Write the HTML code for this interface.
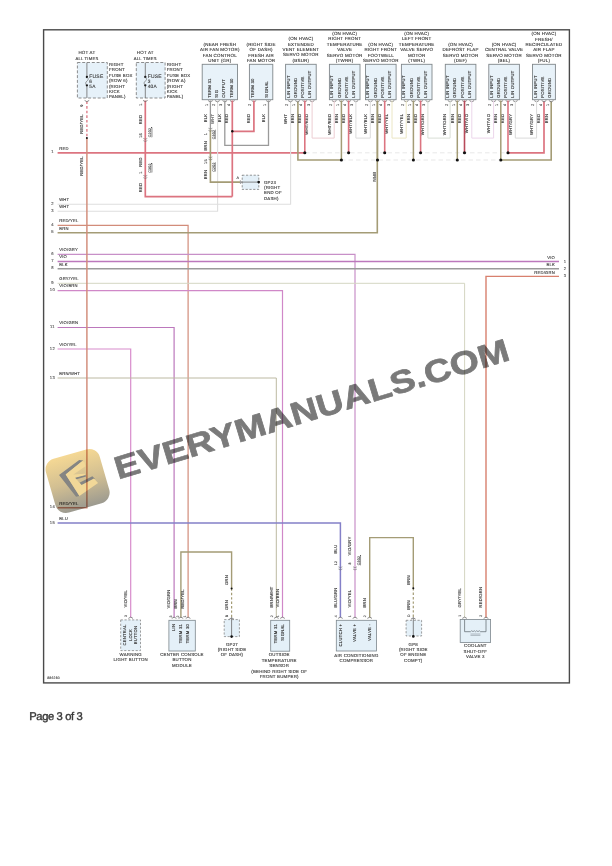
<!DOCTYPE html>
<html><head><meta charset="utf-8"><style>
html,body{margin:0;padding:0;background:#fff;}
body{width:612px;height:866px;position:relative;overflow:hidden;}
svg{position:absolute;left:0;top:0;}
svg text{font-family:"Liberation Sans",sans-serif;letter-spacing:0.22px;text-rendering:geometricPrecision;stroke:currentColor;stroke-width:0.12px;}
.pg{position:absolute;left:29.5px;top:709px;font-family:"Liberation Sans",sans-serif;font-size:11px;color:#333;letter-spacing:-0.2px;}
</style></head><body>
<svg width="612" height="866" viewBox="0 0 612 866">
<rect x="43.6" y="29.8" width="525.8" height="653.1" fill="none" stroke="#4a4a4a" stroke-width="1.4"/>
<text x="52.40" y="153.30" font-size="4.16" text-anchor="middle" fill="#555" style="color:#555" >1</text>
<text x="59.20" y="149.60" font-size="4.16" text-anchor="start" fill="#3c3c3c" style="color:#3c3c3c" >RED</text>
<text x="52.40" y="204.80" font-size="4.16" text-anchor="middle" fill="#555" style="color:#555" >2</text>
<text x="59.20" y="201.10" font-size="4.16" text-anchor="start" fill="#3c3c3c" style="color:#3c3c3c" >WHT</text>
<text x="52.40" y="211.70" font-size="4.16" text-anchor="middle" fill="#555" style="color:#555" >3</text>
<text x="59.20" y="208.00" font-size="4.16" text-anchor="start" fill="#3c3c3c" style="color:#3c3c3c" >WHT</text>
<text x="52.40" y="225.90" font-size="4.16" text-anchor="middle" fill="#555" style="color:#555" >4</text>
<text x="59.20" y="222.20" font-size="4.16" text-anchor="start" fill="#3c3c3c" style="color:#3c3c3c" >RED/YEL</text>
<text x="52.40" y="233.20" font-size="4.16" text-anchor="middle" fill="#555" style="color:#555" >5</text>
<text x="59.20" y="229.50" font-size="4.16" text-anchor="start" fill="#3c3c3c" style="color:#3c3c3c" >BRN</text>
<text x="52.40" y="254.80" font-size="4.16" text-anchor="middle" fill="#555" style="color:#555" >6</text>
<text x="59.20" y="251.10" font-size="4.16" text-anchor="start" fill="#3c3c3c" style="color:#3c3c3c" >VIO/GRY</text>
<text x="52.40" y="262.00" font-size="4.16" text-anchor="middle" fill="#555" style="color:#555" >7</text>
<text x="59.20" y="258.30" font-size="4.16" text-anchor="start" fill="#3c3c3c" style="color:#3c3c3c" >VIO</text>
<text x="52.40" y="269.30" font-size="4.16" text-anchor="middle" fill="#555" style="color:#555" >8</text>
<text x="59.20" y="265.60" font-size="4.16" text-anchor="start" fill="#3c3c3c" style="color:#3c3c3c" >BLK</text>
<text x="52.40" y="283.80" font-size="4.16" text-anchor="middle" fill="#555" style="color:#555" >9</text>
<text x="59.20" y="280.10" font-size="4.16" text-anchor="start" fill="#3c3c3c" style="color:#3c3c3c" >GRY/YEL</text>
<text x="52.40" y="291.10" font-size="4.16" text-anchor="middle" fill="#555" style="color:#555" >10</text>
<text x="59.20" y="287.40" font-size="4.16" text-anchor="start" fill="#3c3c3c" style="color:#3c3c3c" >VIO/BRN</text>
<text x="52.40" y="328.00" font-size="4.16" text-anchor="middle" fill="#555" style="color:#555" >11</text>
<text x="59.20" y="324.30" font-size="4.16" text-anchor="start" fill="#3c3c3c" style="color:#3c3c3c" >VIO/GRN</text>
<text x="52.40" y="349.50" font-size="4.16" text-anchor="middle" fill="#555" style="color:#555" >12</text>
<text x="59.20" y="345.80" font-size="4.16" text-anchor="start" fill="#3c3c3c" style="color:#3c3c3c" >VIO/YEL</text>
<text x="52.40" y="378.50" font-size="4.16" text-anchor="middle" fill="#555" style="color:#555" >13</text>
<text x="59.20" y="374.80" font-size="4.16" text-anchor="start" fill="#3c3c3c" style="color:#3c3c3c" >BRN/WHT</text>
<text x="52.40" y="508.20" font-size="4.16" text-anchor="middle" fill="#555" style="color:#555" >14</text>
<text x="59.20" y="504.50" font-size="4.16" text-anchor="start" fill="#3c3c3c" style="color:#3c3c3c" >RED/YEL</text>
<text x="52.40" y="523.50" font-size="4.16" text-anchor="middle" fill="#555" style="color:#555" >15</text>
<text x="59.20" y="519.80" font-size="4.16" text-anchor="start" fill="#3c3c3c" style="color:#3c3c3c" >BLU</text>
<line x1="57.60" y1="152.80" x2="305.00" y2="152.80" stroke="#dc7480" stroke-width="1.7" />
<line x1="305.00" y1="152.80" x2="507.70" y2="152.80" stroke="#d6d6d6" stroke-width="0.6" stroke-dasharray="4.5 3"/>
<polyline points="507.70,152.80 544.00,152.80 544.00,101.50" fill="none" stroke="#dc7480" stroke-width="1.7" />
<polyline points="297.90,101.50 297.90,160.00 341.00,160.00" fill="none" stroke="#a49c76" stroke-width="1.6" />
<line x1="341.00" y1="160.00" x2="500.50" y2="160.00" stroke="#d6d6d6" stroke-width="0.6" stroke-dasharray="4.5 3"/>
<polyline points="500.50,160.00 551.20,160.00 551.20,101.50" fill="none" stroke="#a49c76" stroke-width="1.6" />
<polyline points="57.60,204.30 290.60,204.30 290.60,101.50" fill="none" stroke="#dedede" stroke-width="1.1" />
<polyline points="57.60,211.20 217.60,211.20 217.60,101.50" fill="none" stroke="#dedede" stroke-width="1.1" />
<polyline points="57.60,225.40 188.10,225.40 188.10,617.50" fill="none" stroke="#d28c7a" stroke-width="1.2" />
<polyline points="57.60,232.70 377.30,232.70 377.30,101.50" fill="none" stroke="#a49c76" stroke-width="1.6" />
<polyline points="57.60,254.30 355.00,254.30 355.00,617.50" fill="none" stroke="#c890c8" stroke-width="1.2" />
<line x1="57.60" y1="261.50" x2="559.00" y2="261.50" stroke="#bc78bc" stroke-width="1.5" />
<line x1="57.60" y1="268.80" x2="559.00" y2="268.80" stroke="#9a9a9a" stroke-width="1.4" />
<polyline points="559.00,276.40 486.00,276.40 486.00,617.50" fill="none" stroke="#d8806e" stroke-width="1.4" />
<polyline points="57.60,283.30 464.60,283.30 464.60,617.50" fill="none" stroke="#d4d6c2" stroke-width="1.0" />
<polyline points="57.60,290.60 282.50,290.60 282.50,617.50" fill="none" stroke="#d088c8" stroke-width="1.2" />
<polyline points="57.60,327.50 174.10,327.50 174.10,617.50" fill="none" stroke="#bc78bc" stroke-width="1.2" />
<polyline points="57.60,349.00 130.70,349.00 130.70,617.50" fill="none" stroke="#d88ccc" stroke-width="1.2" />
<polyline points="57.60,378.00 276.30,378.00 276.30,617.50" fill="none" stroke="#bcb9a2" stroke-width="1.0" />
<polyline points="57.60,507.70 86.90,507.70 86.90,138.00" fill="none" stroke="#d28c7a" stroke-width="1.45" />
<line x1="86.90" y1="101.50" x2="86.90" y2="138.00" stroke="#dc7480" stroke-width="1.3" stroke-dasharray="2.6 2"/>
<circle cx="86.90" cy="138.00" r="1.0" fill="#111"/>
<polyline points="57.60,523.00 340.40,523.00 340.40,617.50" fill="none" stroke="#8480c8" stroke-width="1.5" />
<rect x="77.40" y="62.50" width="29.90" height="35.50" fill="#e6f1f9" stroke="#6a6a6a" stroke-width="0.75" stroke-dasharray="3 1.8"/>
<line x1="86.90" y1="62.50" x2="86.90" y2="77.00" stroke="#6a6a6a" stroke-width="0.8" />
<line x1="86.90" y1="85.40" x2="86.90" y2="98.00" stroke="#6a6a6a" stroke-width="0.8" />
<circle cx="86.90" cy="77.00" r="1.15" fill="#111"/>
<circle cx="86.90" cy="85.30" r="1.15" fill="#111"/>
<path d="M86.90,77 C89.10,78.4 88.10,80.2 86.90,81.1 C85.20,82.2 85.40,84.2 86.90,85.3" fill="none" stroke="#666" stroke-width="0.65"/>
<text x="89.30" y="78.20" font-size="4.99" text-anchor="start" fill="#3a3a3a" style="color:#3a3a3a" >FUSE</text>
<text x="89.30" y="83.20" font-size="4.78" text-anchor="start" fill="#3a3a3a" style="color:#3a3a3a" >6</text>
<text x="89.30" y="88.20" font-size="4.78" text-anchor="start" fill="#3a3a3a" style="color:#3a3a3a" >5A</text>
<text x="86.90" y="54.40" font-size="4.47" text-anchor="middle" fill="#3a3a3a" style="color:#3a3a3a" >HOT AT</text>
<text x="86.90" y="59.60" font-size="4.16" text-anchor="middle" fill="#3a3a3a" style="color:#3a3a3a" >ALL TIMES</text>
<text x="108.90" y="66.00" font-size="4.37" text-anchor="start" fill="#3a3a3a" style="color:#3a3a3a" >RIGHT</text>
<text x="108.90" y="71.40" font-size="4.37" text-anchor="start" fill="#3a3a3a" style="color:#3a3a3a" >FRONT</text>
<text x="108.90" y="76.80" font-size="4.37" text-anchor="start" fill="#3a3a3a" style="color:#3a3a3a" >FUSE BOX</text>
<text x="108.90" y="82.20" font-size="4.37" text-anchor="start" fill="#3a3a3a" style="color:#3a3a3a" >(ROW 6)</text>
<text x="108.90" y="87.60" font-size="4.37" text-anchor="start" fill="#3a3a3a" style="color:#3a3a3a" >(RIGHT</text>
<text x="108.90" y="93.00" font-size="4.37" text-anchor="start" fill="#3a3a3a" style="color:#3a3a3a" >KICK</text>
<text x="108.90" y="98.40" font-size="4.37" text-anchor="start" fill="#3a3a3a" style="color:#3a3a3a" >PANEL)</text>
<rect x="136.30" y="62.50" width="28.80" height="35.50" fill="#e6f1f9" stroke="#6a6a6a" stroke-width="0.75" stroke-dasharray="3 1.8"/>
<line x1="145.30" y1="62.50" x2="145.30" y2="77.00" stroke="#6a6a6a" stroke-width="0.8" />
<line x1="145.30" y1="85.40" x2="145.30" y2="98.00" stroke="#6a6a6a" stroke-width="0.8" />
<circle cx="145.30" cy="77.00" r="1.15" fill="#111"/>
<circle cx="145.30" cy="85.30" r="1.15" fill="#111"/>
<path d="M145.30,77 C147.50,78.4 146.50,80.2 145.30,81.1 C143.60,82.2 143.80,84.2 145.30,85.3" fill="none" stroke="#666" stroke-width="0.65"/>
<text x="147.70" y="78.20" font-size="4.99" text-anchor="start" fill="#3a3a3a" style="color:#3a3a3a" >FUSE</text>
<text x="147.70" y="83.20" font-size="4.78" text-anchor="start" fill="#3a3a3a" style="color:#3a3a3a" >3</text>
<text x="147.70" y="88.20" font-size="4.78" text-anchor="start" fill="#3a3a3a" style="color:#3a3a3a" >40A</text>
<text x="145.30" y="54.40" font-size="4.47" text-anchor="middle" fill="#3a3a3a" style="color:#3a3a3a" >HOT AT</text>
<text x="145.30" y="59.60" font-size="4.16" text-anchor="middle" fill="#3a3a3a" style="color:#3a3a3a" >ALL TIMES</text>
<text x="166.70" y="66.00" font-size="4.37" text-anchor="start" fill="#3a3a3a" style="color:#3a3a3a" >RIGHT</text>
<text x="166.70" y="71.40" font-size="4.37" text-anchor="start" fill="#3a3a3a" style="color:#3a3a3a" >FRONT</text>
<text x="166.70" y="76.80" font-size="4.37" text-anchor="start" fill="#3a3a3a" style="color:#3a3a3a" >FUSE BOX</text>
<text x="166.70" y="82.20" font-size="4.37" text-anchor="start" fill="#3a3a3a" style="color:#3a3a3a" >(ROW A)</text>
<text x="166.70" y="87.60" font-size="4.37" text-anchor="start" fill="#3a3a3a" style="color:#3a3a3a" >(RIGHT</text>
<text x="166.70" y="93.00" font-size="4.37" text-anchor="start" fill="#3a3a3a" style="color:#3a3a3a" >KICK</text>
<text x="166.70" y="98.40" font-size="4.37" text-anchor="start" fill="#3a3a3a" style="color:#3a3a3a" >PANEL)</text>
<polyline points="145.30,100.50 145.30,196.60 232.30,196.60" fill="none" stroke="#dc7480" stroke-width="1.7" />
<path d="M84.60,100.40 q2.3,2.6 4.6,0" fill="none" stroke="#5a5a5a" stroke-width="0.7"/>
<path d="M143.00,100.40 q2.3,2.6 4.6,0" fill="none" stroke="#5a5a5a" stroke-width="0.7"/>
<text x="83.20" y="105.60" font-size="3.74" text-anchor="middle" fill="#3a3a3a" style="color:#3a3a3a" transform="rotate(-90 83.20 105.60)" >9</text>
<text x="83.40" y="124.00" font-size="4.16" text-anchor="middle" fill="#3a3a3a" style="color:#3a3a3a" transform="rotate(-90 83.40 124.00)" >RED/YEL</text>
<text x="83.40" y="166.00" font-size="4.16" text-anchor="middle" fill="#3a3a3a" style="color:#3a3a3a" transform="rotate(-90 83.40 166.00)" >RED/YEL</text>
<text x="141.60" y="104.50" font-size="3.74" text-anchor="middle" fill="#3a3a3a" style="color:#3a3a3a" transform="rotate(-90 141.60 104.50)" >1</text>
<text x="141.60" y="119.50" font-size="4.16" text-anchor="middle" fill="#3a3a3a" style="color:#3a3a3a" transform="rotate(-90 141.60 119.50)" >RED</text>
<text x="141.60" y="135.50" font-size="3.74" text-anchor="middle" fill="#3a3a3a" style="color:#3a3a3a" transform="rotate(-90 141.60 135.50)" >16</text>
<text x="150.80" y="132.50" font-size="3.54" text-anchor="middle" fill="#3a3a3a" style="color:#3a3a3a" transform="rotate(-90 150.80 132.50)" text-decoration="underline">C202</text>
<text x="141.60" y="162.00" font-size="4.16" text-anchor="middle" fill="#3a3a3a" style="color:#3a3a3a" transform="rotate(-90 141.60 162.00)" >RED</text>
<text x="141.60" y="172.50" font-size="3.74" text-anchor="middle" fill="#3a3a3a" style="color:#3a3a3a" transform="rotate(-90 141.60 172.50)" >1</text>
<text x="150.80" y="168.00" font-size="3.54" text-anchor="middle" fill="#3a3a3a" style="color:#3a3a3a" transform="rotate(-90 150.80 168.00)" text-decoration="underline">C302</text>
<text x="141.60" y="187.50" font-size="4.16" text-anchor="middle" fill="#3a3a3a" style="color:#3a3a3a" transform="rotate(-90 141.60 187.50)" >RED</text>
<path d="M143.30,138.40 q2.0,1.8 4.0,0 M143.30,140.60 q2.0,1.8 4.0,0" fill="none" stroke="#666" stroke-width="0.55"/>
<path d="M143.30,175.40 q2.0,1.8 4.0,0 M143.30,177.60 q2.0,1.8 4.0,0" fill="none" stroke="#666" stroke-width="0.55"/>
<rect x="202.20" y="64.30" width="35.30" height="35.40" fill="#e8f2f9" stroke="#80878b" stroke-width="0.9" />
<text x="219.85" y="45.80" font-size="4.47" text-anchor="middle" fill="#333" style="color:#333" >(NEAR FRESH</text>
<text x="219.85" y="51.15" font-size="4.47" text-anchor="middle" fill="#333" style="color:#333" >AIR FAN MOTOR)</text>
<text x="219.85" y="56.50" font-size="4.47" text-anchor="middle" fill="#333" style="color:#333" >FAN CONTROL</text>
<text x="219.85" y="61.85" font-size="4.47" text-anchor="middle" fill="#333" style="color:#333" >UNIT (GR)</text>
<text x="210.80" y="97.80" font-size="4.26" text-anchor="start" fill="#3a3a3a" style="color:#3a3a3a" transform="rotate(-90 210.80 97.80)" >TERM 31</text>
<path d="M208.10,100.60 q2.3,2.6 4.6,0" fill="none" stroke="#5a5a5a" stroke-width="0.7"/>
<text x="217.80" y="97.80" font-size="4.26" text-anchor="start" fill="#3a3a3a" style="color:#3a3a3a" transform="rotate(-90 217.80 97.80)" >SIG</text>
<path d="M215.10,100.60 q2.3,2.6 4.6,0" fill="none" stroke="#5a5a5a" stroke-width="0.7"/>
<text x="225.20" y="97.80" font-size="4.26" text-anchor="start" fill="#3a3a3a" style="color:#3a3a3a" transform="rotate(-90 225.20 97.80)" >OUTPUT</text>
<path d="M222.50,100.60 q2.3,2.6 4.6,0" fill="none" stroke="#5a5a5a" stroke-width="0.7"/>
<text x="232.70" y="97.80" font-size="4.26" text-anchor="start" fill="#3a3a3a" style="color:#3a3a3a" transform="rotate(-90 232.70 97.80)" >TERM 30</text>
<path d="M230.00,100.60 q2.3,2.6 4.6,0" fill="none" stroke="#5a5a5a" stroke-width="0.7"/>
<text x="208.00" y="104.90" font-size="3.74" text-anchor="middle" fill="#444" style="color:#444" transform="rotate(-90 208.00 104.90)" >1</text>
<text x="215.00" y="104.90" font-size="3.74" text-anchor="middle" fill="#444" style="color:#444" transform="rotate(-90 215.00 104.90)" >2</text>
<text x="222.40" y="104.90" font-size="3.74" text-anchor="middle" fill="#444" style="color:#444" transform="rotate(-90 222.40 104.90)" >3</text>
<text x="229.90" y="104.90" font-size="3.74" text-anchor="middle" fill="#444" style="color:#444" transform="rotate(-90 229.90 104.90)" >4</text>
<rect x="249.40" y="64.30" width="23.40" height="35.40" fill="#e8f2f9" stroke="#80878b" stroke-width="0.9" />
<text x="261.10" y="45.80" font-size="4.47" text-anchor="middle" fill="#333" style="color:#333" >(RIGHT SIDE</text>
<text x="261.10" y="51.15" font-size="4.47" text-anchor="middle" fill="#333" style="color:#333" >OF DASH)</text>
<text x="261.10" y="56.50" font-size="4.47" text-anchor="middle" fill="#333" style="color:#333" >FRESH AIR</text>
<text x="261.10" y="61.85" font-size="4.47" text-anchor="middle" fill="#333" style="color:#333" >FAN MOTOR</text>
<text x="253.70" y="97.80" font-size="4.26" text-anchor="start" fill="#3a3a3a" style="color:#3a3a3a" transform="rotate(-90 253.70 97.80)" >TERM 30</text>
<path d="M251.60,100.60 q2.3,2.6 4.6,0" fill="none" stroke="#5a5a5a" stroke-width="0.7"/>
<text x="268.30" y="97.80" font-size="4.26" text-anchor="start" fill="#3a3a3a" style="color:#3a3a3a" transform="rotate(-90 268.30 97.80)" >SIGNAL</text>
<path d="M266.20,100.60 q2.3,2.6 4.6,0" fill="none" stroke="#5a5a5a" stroke-width="0.7"/>
<text x="251.50" y="104.90" font-size="3.74" text-anchor="middle" fill="#444" style="color:#444" transform="rotate(-90 251.50 104.90)" >2</text>
<text x="266.10" y="104.90" font-size="3.74" text-anchor="middle" fill="#444" style="color:#444" transform="rotate(-90 266.10 104.90)" >1</text>
<rect x="285.60" y="64.30" width="30.60" height="35.40" fill="#e8f2f9" stroke="#80878b" stroke-width="0.9" />
<text x="300.90" y="40.40" font-size="4.47" text-anchor="middle" fill="#333" style="color:#333" >(ON HVAC)</text>
<text x="300.90" y="45.75" font-size="4.47" text-anchor="middle" fill="#333" style="color:#333" >EXTENDED</text>
<text x="300.90" y="51.10" font-size="4.47" text-anchor="middle" fill="#333" style="color:#333" >VENT ELEMENT</text>
<text x="300.90" y="56.45" font-size="4.47" text-anchor="middle" fill="#333" style="color:#333" >SERVO MOTOR</text>
<text x="300.90" y="61.80" font-size="4.47" text-anchor="middle" fill="#333" style="color:#333" >(BSUR)</text>
<text x="289.60" y="97.80" font-size="4.26" text-anchor="start" fill="#3a3a3a" style="color:#3a3a3a" transform="rotate(-90 289.60 97.80)" >LIN INPUT</text>
<path d="M288.10,100.60 q2.3,2.6 4.6,0" fill="none" stroke="#5a5a5a" stroke-width="0.7"/>
<text x="296.80" y="97.80" font-size="4.26" text-anchor="start" fill="#3a3a3a" style="color:#3a3a3a" transform="rotate(-90 296.80 97.80)" >GROUND</text>
<path d="M295.30,100.60 q2.3,2.6 4.6,0" fill="none" stroke="#5a5a5a" stroke-width="0.7"/>
<text x="304.00" y="97.80" font-size="4.26" text-anchor="start" fill="#3a3a3a" style="color:#3a3a3a" transform="rotate(-90 304.00 97.80)" >POSITIVE</text>
<path d="M302.50,100.60 q2.3,2.6 4.6,0" fill="none" stroke="#5a5a5a" stroke-width="0.7"/>
<text x="311.30" y="97.80" font-size="4.26" text-anchor="start" fill="#3a3a3a" style="color:#3a3a3a" transform="rotate(-90 311.30 97.80)" >LIN OUTPUT</text>
<path d="M309.80,100.60 q2.3,2.6 4.6,0" fill="none" stroke="#5a5a5a" stroke-width="0.7"/>
<text x="288.00" y="104.90" font-size="3.74" text-anchor="middle" fill="#444" style="color:#444" transform="rotate(-90 288.00 104.90)" >2</text>
<text x="295.20" y="104.90" font-size="3.74" text-anchor="middle" fill="#444" style="color:#444" transform="rotate(-90 295.20 104.90)" >1</text>
<text x="302.40" y="104.90" font-size="3.74" text-anchor="middle" fill="#444" style="color:#444" transform="rotate(-90 302.40 104.90)" >4</text>
<text x="309.70" y="104.90" font-size="3.74" text-anchor="middle" fill="#444" style="color:#444" transform="rotate(-90 309.70 104.90)" >3</text>
<rect x="329.40" y="64.30" width="30.60" height="35.40" fill="#e8f2f9" stroke="#80878b" stroke-width="0.9" />
<text x="344.70" y="35.10" font-size="4.47" text-anchor="middle" fill="#333" style="color:#333" >(ON HVAC)</text>
<text x="344.70" y="40.45" font-size="4.47" text-anchor="middle" fill="#333" style="color:#333" >RIGHT FRONT</text>
<text x="344.70" y="45.80" font-size="4.47" text-anchor="middle" fill="#333" style="color:#333" >TEMPERATURE</text>
<text x="344.70" y="51.15" font-size="4.47" text-anchor="middle" fill="#333" style="color:#333" >VALVE</text>
<text x="344.70" y="56.50" font-size="4.47" text-anchor="middle" fill="#333" style="color:#333" >SERVO MOTOR</text>
<text x="344.70" y="61.85" font-size="4.47" text-anchor="middle" fill="#333" style="color:#333" >(TWRR)</text>
<text x="333.40" y="97.80" font-size="4.26" text-anchor="start" fill="#3a3a3a" style="color:#3a3a3a" transform="rotate(-90 333.40 97.80)" >LIN INPUT</text>
<path d="M331.90,100.60 q2.3,2.6 4.6,0" fill="none" stroke="#5a5a5a" stroke-width="0.7"/>
<text x="340.60" y="97.80" font-size="4.26" text-anchor="start" fill="#3a3a3a" style="color:#3a3a3a" transform="rotate(-90 340.60 97.80)" >GROUND</text>
<path d="M339.10,100.60 q2.3,2.6 4.6,0" fill="none" stroke="#5a5a5a" stroke-width="0.7"/>
<text x="347.80" y="97.80" font-size="4.26" text-anchor="start" fill="#3a3a3a" style="color:#3a3a3a" transform="rotate(-90 347.80 97.80)" >POSITIVE</text>
<path d="M346.30,100.60 q2.3,2.6 4.6,0" fill="none" stroke="#5a5a5a" stroke-width="0.7"/>
<text x="355.10" y="97.80" font-size="4.26" text-anchor="start" fill="#3a3a3a" style="color:#3a3a3a" transform="rotate(-90 355.10 97.80)" >LIN OUTPUT</text>
<path d="M353.60,100.60 q2.3,2.6 4.6,0" fill="none" stroke="#5a5a5a" stroke-width="0.7"/>
<text x="331.80" y="104.90" font-size="3.74" text-anchor="middle" fill="#444" style="color:#444" transform="rotate(-90 331.80 104.90)" >2</text>
<text x="339.00" y="104.90" font-size="3.74" text-anchor="middle" fill="#444" style="color:#444" transform="rotate(-90 339.00 104.90)" >1</text>
<text x="346.20" y="104.90" font-size="3.74" text-anchor="middle" fill="#444" style="color:#444" transform="rotate(-90 346.20 104.90)" >4</text>
<text x="353.50" y="104.90" font-size="3.74" text-anchor="middle" fill="#444" style="color:#444" transform="rotate(-90 353.50 104.90)" >3</text>
<rect x="365.50" y="64.30" width="30.60" height="35.40" fill="#e8f2f9" stroke="#80878b" stroke-width="0.9" />
<text x="380.80" y="45.80" font-size="4.47" text-anchor="middle" fill="#333" style="color:#333" >(ON HVAC)</text>
<text x="380.80" y="51.15" font-size="4.47" text-anchor="middle" fill="#333" style="color:#333" >RIGHT FRONT</text>
<text x="380.80" y="56.50" font-size="4.47" text-anchor="middle" fill="#333" style="color:#333" >FOOTWELL</text>
<text x="380.80" y="61.85" font-size="4.47" text-anchor="middle" fill="#333" style="color:#333" >SERVO MOTOR</text>
<text x="369.50" y="97.80" font-size="4.26" text-anchor="start" fill="#3a3a3a" style="color:#3a3a3a" transform="rotate(-90 369.50 97.80)" >LIN INPUT</text>
<path d="M368.00,100.60 q2.3,2.6 4.6,0" fill="none" stroke="#5a5a5a" stroke-width="0.7"/>
<text x="376.70" y="97.80" font-size="4.26" text-anchor="start" fill="#3a3a3a" style="color:#3a3a3a" transform="rotate(-90 376.70 97.80)" >GROUND</text>
<path d="M375.20,100.60 q2.3,2.6 4.6,0" fill="none" stroke="#5a5a5a" stroke-width="0.7"/>
<text x="383.90" y="97.80" font-size="4.26" text-anchor="start" fill="#3a3a3a" style="color:#3a3a3a" transform="rotate(-90 383.90 97.80)" >POSITIVE</text>
<path d="M382.40,100.60 q2.3,2.6 4.6,0" fill="none" stroke="#5a5a5a" stroke-width="0.7"/>
<text x="391.20" y="97.80" font-size="4.26" text-anchor="start" fill="#3a3a3a" style="color:#3a3a3a" transform="rotate(-90 391.20 97.80)" >LIN OUTPUT</text>
<path d="M389.70,100.60 q2.3,2.6 4.6,0" fill="none" stroke="#5a5a5a" stroke-width="0.7"/>
<text x="367.90" y="104.90" font-size="3.74" text-anchor="middle" fill="#444" style="color:#444" transform="rotate(-90 367.90 104.90)" >2</text>
<text x="375.10" y="104.90" font-size="3.74" text-anchor="middle" fill="#444" style="color:#444" transform="rotate(-90 375.10 104.90)" >1</text>
<text x="382.30" y="104.90" font-size="3.74" text-anchor="middle" fill="#444" style="color:#444" transform="rotate(-90 382.30 104.90)" >4</text>
<text x="389.60" y="104.90" font-size="3.74" text-anchor="middle" fill="#444" style="color:#444" transform="rotate(-90 389.60 104.90)" >3</text>
<rect x="401.40" y="64.30" width="30.60" height="35.40" fill="#e8f2f9" stroke="#80878b" stroke-width="0.9" />
<text x="416.70" y="35.10" font-size="4.47" text-anchor="middle" fill="#333" style="color:#333" >(ON HVAC)</text>
<text x="416.70" y="40.45" font-size="4.47" text-anchor="middle" fill="#333" style="color:#333" >LEFT FRONT</text>
<text x="416.70" y="45.80" font-size="4.47" text-anchor="middle" fill="#333" style="color:#333" >TEMPERATURE</text>
<text x="416.70" y="51.15" font-size="4.47" text-anchor="middle" fill="#333" style="color:#333" >VALVE SERVO</text>
<text x="416.70" y="56.50" font-size="4.47" text-anchor="middle" fill="#333" style="color:#333" >MOTOR</text>
<text x="416.70" y="61.85" font-size="4.47" text-anchor="middle" fill="#333" style="color:#333" >(TWRL)</text>
<text x="405.40" y="97.80" font-size="4.26" text-anchor="start" fill="#3a3a3a" style="color:#3a3a3a" transform="rotate(-90 405.40 97.80)" >LIN INPUT</text>
<path d="M403.90,100.60 q2.3,2.6 4.6,0" fill="none" stroke="#5a5a5a" stroke-width="0.7"/>
<text x="412.60" y="97.80" font-size="4.26" text-anchor="start" fill="#3a3a3a" style="color:#3a3a3a" transform="rotate(-90 412.60 97.80)" >GROUND</text>
<path d="M411.10,100.60 q2.3,2.6 4.6,0" fill="none" stroke="#5a5a5a" stroke-width="0.7"/>
<text x="419.80" y="97.80" font-size="4.26" text-anchor="start" fill="#3a3a3a" style="color:#3a3a3a" transform="rotate(-90 419.80 97.80)" >POSITIVE</text>
<path d="M418.30,100.60 q2.3,2.6 4.6,0" fill="none" stroke="#5a5a5a" stroke-width="0.7"/>
<text x="427.10" y="97.80" font-size="4.26" text-anchor="start" fill="#3a3a3a" style="color:#3a3a3a" transform="rotate(-90 427.10 97.80)" >LIN OUTPUT</text>
<path d="M425.60,100.60 q2.3,2.6 4.6,0" fill="none" stroke="#5a5a5a" stroke-width="0.7"/>
<text x="403.80" y="104.90" font-size="3.74" text-anchor="middle" fill="#444" style="color:#444" transform="rotate(-90 403.80 104.90)" >2</text>
<text x="411.00" y="104.90" font-size="3.74" text-anchor="middle" fill="#444" style="color:#444" transform="rotate(-90 411.00 104.90)" >1</text>
<text x="418.20" y="104.90" font-size="3.74" text-anchor="middle" fill="#444" style="color:#444" transform="rotate(-90 418.20 104.90)" >4</text>
<text x="425.50" y="104.90" font-size="3.74" text-anchor="middle" fill="#444" style="color:#444" transform="rotate(-90 425.50 104.90)" >3</text>
<rect x="445.30" y="64.30" width="30.60" height="35.40" fill="#e8f2f9" stroke="#80878b" stroke-width="0.9" />
<text x="460.60" y="45.80" font-size="4.47" text-anchor="middle" fill="#333" style="color:#333" >(ON HVAC)</text>
<text x="460.60" y="51.15" font-size="4.47" text-anchor="middle" fill="#333" style="color:#333" >DEFROST FLAP</text>
<text x="460.60" y="56.50" font-size="4.47" text-anchor="middle" fill="#333" style="color:#333" >SERVO MOTOR</text>
<text x="460.60" y="61.85" font-size="4.47" text-anchor="middle" fill="#333" style="color:#333" >(DEF)</text>
<text x="449.30" y="97.80" font-size="4.26" text-anchor="start" fill="#3a3a3a" style="color:#3a3a3a" transform="rotate(-90 449.30 97.80)" >LIN INPUT</text>
<path d="M447.80,100.60 q2.3,2.6 4.6,0" fill="none" stroke="#5a5a5a" stroke-width="0.7"/>
<text x="456.50" y="97.80" font-size="4.26" text-anchor="start" fill="#3a3a3a" style="color:#3a3a3a" transform="rotate(-90 456.50 97.80)" >GROUND</text>
<path d="M455.00,100.60 q2.3,2.6 4.6,0" fill="none" stroke="#5a5a5a" stroke-width="0.7"/>
<text x="463.70" y="97.80" font-size="4.26" text-anchor="start" fill="#3a3a3a" style="color:#3a3a3a" transform="rotate(-90 463.70 97.80)" >POSITIVE</text>
<path d="M462.20,100.60 q2.3,2.6 4.6,0" fill="none" stroke="#5a5a5a" stroke-width="0.7"/>
<text x="471.00" y="97.80" font-size="4.26" text-anchor="start" fill="#3a3a3a" style="color:#3a3a3a" transform="rotate(-90 471.00 97.80)" >LIN OUTPUT</text>
<path d="M469.50,100.60 q2.3,2.6 4.6,0" fill="none" stroke="#5a5a5a" stroke-width="0.7"/>
<text x="447.70" y="104.90" font-size="3.74" text-anchor="middle" fill="#444" style="color:#444" transform="rotate(-90 447.70 104.90)" >2</text>
<text x="454.90" y="104.90" font-size="3.74" text-anchor="middle" fill="#444" style="color:#444" transform="rotate(-90 454.90 104.90)" >1</text>
<text x="462.10" y="104.90" font-size="3.74" text-anchor="middle" fill="#444" style="color:#444" transform="rotate(-90 462.10 104.90)" >4</text>
<text x="469.40" y="104.90" font-size="3.74" text-anchor="middle" fill="#444" style="color:#444" transform="rotate(-90 469.40 104.90)" >3</text>
<rect x="488.80" y="64.30" width="30.60" height="35.40" fill="#e8f2f9" stroke="#80878b" stroke-width="0.9" />
<text x="504.10" y="45.80" font-size="4.47" text-anchor="middle" fill="#333" style="color:#333" >(ON HVAC)</text>
<text x="504.10" y="51.15" font-size="4.47" text-anchor="middle" fill="#333" style="color:#333" >CENTRAL VALVE</text>
<text x="504.10" y="56.50" font-size="4.47" text-anchor="middle" fill="#333" style="color:#333" >SERVO MOTOR</text>
<text x="504.10" y="61.85" font-size="4.47" text-anchor="middle" fill="#333" style="color:#333" >(BEL)</text>
<text x="492.80" y="97.80" font-size="4.26" text-anchor="start" fill="#3a3a3a" style="color:#3a3a3a" transform="rotate(-90 492.80 97.80)" >LIN INPUT</text>
<path d="M491.30,100.60 q2.3,2.6 4.6,0" fill="none" stroke="#5a5a5a" stroke-width="0.7"/>
<text x="500.00" y="97.80" font-size="4.26" text-anchor="start" fill="#3a3a3a" style="color:#3a3a3a" transform="rotate(-90 500.00 97.80)" >GROUND</text>
<path d="M498.50,100.60 q2.3,2.6 4.6,0" fill="none" stroke="#5a5a5a" stroke-width="0.7"/>
<text x="507.20" y="97.80" font-size="4.26" text-anchor="start" fill="#3a3a3a" style="color:#3a3a3a" transform="rotate(-90 507.20 97.80)" >POSITIVE</text>
<path d="M505.70,100.60 q2.3,2.6 4.6,0" fill="none" stroke="#5a5a5a" stroke-width="0.7"/>
<text x="514.50" y="97.80" font-size="4.26" text-anchor="start" fill="#3a3a3a" style="color:#3a3a3a" transform="rotate(-90 514.50 97.80)" >LIN OUTPUT</text>
<path d="M513.00,100.60 q2.3,2.6 4.6,0" fill="none" stroke="#5a5a5a" stroke-width="0.7"/>
<text x="491.20" y="104.90" font-size="3.74" text-anchor="middle" fill="#444" style="color:#444" transform="rotate(-90 491.20 104.90)" >2</text>
<text x="498.40" y="104.90" font-size="3.74" text-anchor="middle" fill="#444" style="color:#444" transform="rotate(-90 498.40 104.90)" >1</text>
<text x="505.60" y="104.90" font-size="3.74" text-anchor="middle" fill="#444" style="color:#444" transform="rotate(-90 505.60 104.90)" >4</text>
<text x="512.90" y="104.90" font-size="3.74" text-anchor="middle" fill="#444" style="color:#444" transform="rotate(-90 512.90 104.90)" >3</text>
<rect x="532.50" y="64.30" width="22.90" height="35.40" fill="#e8f2f9" stroke="#80878b" stroke-width="0.9" />
<text x="543.95" y="35.20" font-size="4.47" text-anchor="middle" fill="#333" style="color:#333" >(ON HVAC)</text>
<text x="543.95" y="40.55" font-size="4.47" text-anchor="middle" fill="#333" style="color:#333" >FRESH/</text>
<text x="543.95" y="45.90" font-size="4.47" text-anchor="middle" fill="#333" style="color:#333" >RECIRCULATED</text>
<text x="543.95" y="51.25" font-size="4.47" text-anchor="middle" fill="#333" style="color:#333" >AIR FLAP</text>
<text x="543.95" y="56.60" font-size="4.47" text-anchor="middle" fill="#333" style="color:#333" >SERVO MOTOR</text>
<text x="543.95" y="61.95" font-size="4.47" text-anchor="middle" fill="#333" style="color:#333" >(FUL)</text>
<text x="536.70" y="97.80" font-size="4.26" text-anchor="start" fill="#3a3a3a" style="color:#3a3a3a" transform="rotate(-90 536.70 97.80)" >LIN INPUT</text>
<path d="M534.30,100.60 q2.3,2.6 4.6,0" fill="none" stroke="#5a5a5a" stroke-width="0.7"/>
<text x="544.10" y="97.80" font-size="4.26" text-anchor="start" fill="#3a3a3a" style="color:#3a3a3a" transform="rotate(-90 544.10 97.80)" >POSITIVE</text>
<path d="M541.70,100.60 q2.3,2.6 4.6,0" fill="none" stroke="#5a5a5a" stroke-width="0.7"/>
<text x="551.30" y="97.80" font-size="4.26" text-anchor="start" fill="#3a3a3a" style="color:#3a3a3a" transform="rotate(-90 551.30 97.80)" >GROUND</text>
<path d="M548.90,100.60 q2.3,2.6 4.6,0" fill="none" stroke="#5a5a5a" stroke-width="0.7"/>
<text x="534.20" y="104.90" font-size="3.74" text-anchor="middle" fill="#444" style="color:#444" transform="rotate(-90 534.20 104.90)" >2</text>
<text x="541.60" y="104.90" font-size="3.74" text-anchor="middle" fill="#444" style="color:#444" transform="rotate(-90 541.60 104.90)" >4</text>
<text x="548.80" y="104.90" font-size="3.74" text-anchor="middle" fill="#444" style="color:#444" transform="rotate(-90 548.80 104.90)" >1</text>
<polyline points="210.40,100.50 210.40,129.50" fill="none" stroke="#9a9a9a" stroke-width="1.3" />
<polyline points="210.40,129.50 210.40,182.10 240.00,182.10" fill="none" stroke="#a49c76" stroke-width="1.6" />
<path d="M208.40,128.20 q2.0,1.8 4.0,0 M208.40,130.40 q2.0,1.8 4.0,0" fill="none" stroke="#666" stroke-width="0.55"/>
<path d="M208.40,156.90 q2.0,1.8 4.0,0 M208.40,159.10 q2.0,1.8 4.0,0" fill="none" stroke="#666" stroke-width="0.55"/>
<polyline points="224.80,100.50 224.80,145.30 268.50,145.30 268.50,100.50" fill="none" stroke="#9a9a9a" stroke-width="1.3" />
<line x1="232.30" y1="100.50" x2="232.30" y2="196.60" stroke="#dc7480" stroke-width="1.7" />
<polyline points="232.30,131.30 253.90,131.30 253.90,100.50" fill="none" stroke="#dc7480" stroke-width="1.7" />
<circle cx="232.30" cy="131.30" r="1.2" fill="#111"/>
<text x="207.00" y="113.80" font-size="4.16" text-anchor="end" fill="#3a3a3a" style="color:#3a3a3a" transform="rotate(-90 207.00 113.80)" >BLK</text>
<text x="213.60" y="113.80" font-size="4.16" text-anchor="end" fill="#666" style="color:#666" transform="rotate(-90 213.60 113.80)" >WHT</text>
<text x="221.00" y="113.80" font-size="4.16" text-anchor="end" fill="#3a3a3a" style="color:#3a3a3a" transform="rotate(-90 221.00 113.80)" >BLK</text>
<text x="228.40" y="113.80" font-size="4.16" text-anchor="end" fill="#3a3a3a" style="color:#3a3a3a" transform="rotate(-90 228.40 113.80)" >RED</text>
<text x="250.00" y="113.80" font-size="4.16" text-anchor="end" fill="#3a3a3a" style="color:#3a3a3a" transform="rotate(-90 250.00 113.80)" >RED</text>
<text x="264.60" y="113.80" font-size="4.16" text-anchor="end" fill="#3a3a3a" style="color:#3a3a3a" transform="rotate(-90 264.60 113.80)" >BLK</text>
<text x="207.00" y="134.00" font-size="3.74" text-anchor="middle" fill="#3a3a3a" style="color:#3a3a3a" transform="rotate(-90 207.00 134.00)" >1</text>
<text x="214.50" y="134.50" font-size="3.54" text-anchor="middle" fill="#3a3a3a" style="color:#3a3a3a" transform="rotate(-90 214.50 134.50)" text-decoration="underline">C302</text>
<text x="207.00" y="145.80" font-size="4.16" text-anchor="middle" fill="#3a3a3a" style="color:#3a3a3a" transform="rotate(-90 207.00 145.80)" >BRN</text>
<text x="207.00" y="161.60" font-size="3.74" text-anchor="middle" fill="#3a3a3a" style="color:#3a3a3a" transform="rotate(-90 207.00 161.60)" >15</text>
<text x="214.50" y="167.00" font-size="3.54" text-anchor="middle" fill="#3a3a3a" style="color:#3a3a3a" transform="rotate(-90 214.50 167.00)" text-decoration="underline">C202</text>
<text x="207.00" y="174.60" font-size="4.16" text-anchor="middle" fill="#3a3a3a" style="color:#3a3a3a" transform="rotate(-90 207.00 174.60)" >BRN</text>
<path d="M240.2,180.2 q1.8,1.9 0,3.8" fill="none" stroke="#666" stroke-width="0.6"/>
<text x="236.50" y="179.00" font-size="3.74" text-anchor="start" fill="#3a3a3a" style="color:#3a3a3a" >A</text>
<rect x="242.20" y="175.20" width="16.60" height="14.20" fill="#e4f0f8" stroke="#6a6a6a" stroke-width="0.7" stroke-dasharray="2.2 1.6"/>
<line x1="240.00" y1="182.10" x2="258.70" y2="182.10" stroke="#6a6a6a" stroke-width="0.8" />
<circle cx="258.70" cy="182.10" r="1.3" fill="#111"/>
<text x="264.00" y="183.50" font-size="4.37" text-anchor="start" fill="#3a3a3a" style="color:#3a3a3a" >GP23</text>
<text x="264.00" y="188.90" font-size="4.37" text-anchor="start" fill="#3a3a3a" style="color:#3a3a3a" >(RIGHT</text>
<text x="264.00" y="194.30" font-size="4.37" text-anchor="start" fill="#3a3a3a" style="color:#3a3a3a" >END OF</text>
<text x="264.00" y="199.70" font-size="4.37" text-anchor="start" fill="#3a3a3a" style="color:#3a3a3a" >DASH)</text>
<text x="286.80" y="113.80" font-size="4.16" text-anchor="end" fill="#3a3a3a" style="color:#3a3a3a" transform="rotate(-90 286.80 113.80)" >WHT</text>
<text x="294.00" y="113.80" font-size="4.16" text-anchor="end" fill="#3a3a3a" style="color:#3a3a3a" transform="rotate(-90 294.00 113.80)" >BRN</text>
<text x="301.20" y="113.80" font-size="4.16" text-anchor="end" fill="#3a3a3a" style="color:#3a3a3a" transform="rotate(-90 301.20 113.80)" >RED</text>
<text x="308.50" y="113.80" font-size="4.16" text-anchor="end" fill="#3a3a3a" style="color:#3a3a3a" transform="rotate(-90 308.50 113.80)" >WHT/RED</text>
<text x="330.60" y="113.80" font-size="4.16" text-anchor="end" fill="#3a3a3a" style="color:#3a3a3a" transform="rotate(-90 330.60 113.80)" >WHT/RED</text>
<text x="337.80" y="113.80" font-size="4.16" text-anchor="end" fill="#3a3a3a" style="color:#3a3a3a" transform="rotate(-90 337.80 113.80)" >BRN</text>
<text x="345.00" y="113.80" font-size="4.16" text-anchor="end" fill="#3a3a3a" style="color:#3a3a3a" transform="rotate(-90 345.00 113.80)" >RED</text>
<text x="352.30" y="113.80" font-size="4.16" text-anchor="end" fill="#3a3a3a" style="color:#3a3a3a" transform="rotate(-90 352.30 113.80)" >WHT/BLK</text>
<text x="366.70" y="113.80" font-size="4.16" text-anchor="end" fill="#3a3a3a" style="color:#3a3a3a" transform="rotate(-90 366.70 113.80)" >WHT/BLK</text>
<text x="373.90" y="113.80" font-size="4.16" text-anchor="end" fill="#3a3a3a" style="color:#3a3a3a" transform="rotate(-90 373.90 113.80)" >BRN</text>
<text x="381.10" y="113.80" font-size="4.16" text-anchor="end" fill="#3a3a3a" style="color:#3a3a3a" transform="rotate(-90 381.10 113.80)" >RED</text>
<text x="388.40" y="113.80" font-size="4.16" text-anchor="end" fill="#3a3a3a" style="color:#3a3a3a" transform="rotate(-90 388.40 113.80)" >WHT/YEL</text>
<text x="402.60" y="113.80" font-size="4.16" text-anchor="end" fill="#3a3a3a" style="color:#3a3a3a" transform="rotate(-90 402.60 113.80)" >WHT/YEL</text>
<text x="409.80" y="113.80" font-size="4.16" text-anchor="end" fill="#3a3a3a" style="color:#3a3a3a" transform="rotate(-90 409.80 113.80)" >BRN</text>
<text x="417.00" y="113.80" font-size="4.16" text-anchor="end" fill="#3a3a3a" style="color:#3a3a3a" transform="rotate(-90 417.00 113.80)" >RED</text>
<text x="424.30" y="113.80" font-size="4.16" text-anchor="end" fill="#3a3a3a" style="color:#3a3a3a" transform="rotate(-90 424.30 113.80)" >WHT/GRN</text>
<text x="446.50" y="113.80" font-size="4.16" text-anchor="end" fill="#3a3a3a" style="color:#3a3a3a" transform="rotate(-90 446.50 113.80)" >WHT/GRN</text>
<text x="453.70" y="113.80" font-size="4.16" text-anchor="end" fill="#3a3a3a" style="color:#3a3a3a" transform="rotate(-90 453.70 113.80)" >BRN</text>
<text x="460.90" y="113.80" font-size="4.16" text-anchor="end" fill="#3a3a3a" style="color:#3a3a3a" transform="rotate(-90 460.90 113.80)" >RED</text>
<text x="468.20" y="113.80" font-size="4.16" text-anchor="end" fill="#3a3a3a" style="color:#3a3a3a" transform="rotate(-90 468.20 113.80)" >WHT/VIO</text>
<text x="490.00" y="113.80" font-size="4.16" text-anchor="end" fill="#3a3a3a" style="color:#3a3a3a" transform="rotate(-90 490.00 113.80)" >WHT/VIO</text>
<text x="497.20" y="113.80" font-size="4.16" text-anchor="end" fill="#3a3a3a" style="color:#3a3a3a" transform="rotate(-90 497.20 113.80)" >BRN</text>
<text x="504.40" y="113.80" font-size="4.16" text-anchor="end" fill="#3a3a3a" style="color:#3a3a3a" transform="rotate(-90 504.40 113.80)" >RED</text>
<text x="511.70" y="113.80" font-size="4.16" text-anchor="end" fill="#3a3a3a" style="color:#3a3a3a" transform="rotate(-90 511.70 113.80)" >WHT/GRY</text>
<text x="533.00" y="113.80" font-size="4.16" text-anchor="end" fill="#3a3a3a" style="color:#3a3a3a" transform="rotate(-90 533.00 113.80)" >WHT/GRY</text>
<text x="540.40" y="113.80" font-size="4.16" text-anchor="end" fill="#3a3a3a" style="color:#3a3a3a" transform="rotate(-90 540.40 113.80)" >RED</text>
<text x="547.60" y="113.80" font-size="4.16" text-anchor="end" fill="#3a3a3a" style="color:#3a3a3a" transform="rotate(-90 547.60 113.80)" >BRN</text>
<line x1="348.60" y1="100.50" x2="348.60" y2="152.80" stroke="#dc7480" stroke-width="1.6" />
<circle cx="348.60" cy="152.80" r="1.55" fill="#111"/>
<line x1="384.70" y1="100.50" x2="384.70" y2="152.80" stroke="#dc7480" stroke-width="1.6" />
<circle cx="384.70" cy="152.80" r="1.55" fill="#111"/>
<line x1="420.60" y1="100.50" x2="420.60" y2="152.80" stroke="#dc7480" stroke-width="1.6" />
<circle cx="420.60" cy="152.80" r="1.55" fill="#111"/>
<line x1="464.50" y1="100.50" x2="464.50" y2="152.80" stroke="#b84a5a" stroke-width="1.6" />
<circle cx="464.50" cy="152.80" r="1.55" fill="#111"/>
<line x1="508.00" y1="100.50" x2="508.00" y2="152.80" stroke="#dc7480" stroke-width="1.6" />
<circle cx="508.00" cy="152.80" r="1.55" fill="#111"/>
<line x1="304.80" y1="100.50" x2="304.80" y2="152.80" stroke="#dc7480" stroke-width="1.6" />
<circle cx="304.80" cy="152.80" r="1.55" fill="#111"/>
<line x1="341.40" y1="100.50" x2="341.40" y2="160.00" stroke="#a49c76" stroke-width="1.5" />
<circle cx="341.40" cy="160.00" r="1.55" fill="#111"/>
<line x1="377.50" y1="100.50" x2="377.50" y2="160.00" stroke="#a49c76" stroke-width="1.5" />
<circle cx="377.50" cy="160.00" r="1.55" fill="#111"/>
<line x1="413.40" y1="100.50" x2="413.40" y2="160.00" stroke="#a49c76" stroke-width="1.5" />
<circle cx="413.40" cy="160.00" r="1.55" fill="#111"/>
<line x1="457.30" y1="100.50" x2="457.30" y2="160.00" stroke="#a49c76" stroke-width="1.5" />
<circle cx="457.30" cy="160.00" r="1.55" fill="#111"/>
<line x1="500.80" y1="100.50" x2="500.80" y2="160.00" stroke="#a49c76" stroke-width="1.5" />
<circle cx="500.80" cy="160.00" r="1.55" fill="#111"/>
<polyline points="312.10,100.50 312.10,138.10 334.20,138.10 334.20,100.50" fill="none" stroke="#eccdd2" stroke-width="1.0" />
<polyline points="355.90,100.50 355.90,138.10 370.30,138.10 370.30,100.50" fill="none" stroke="#dcdcdc" stroke-width="1.0" />
<polyline points="392.00,100.50 392.00,138.10 406.20,138.10 406.20,100.50" fill="none" stroke="#ebe6c4" stroke-width="1.0" />
<polyline points="427.90,100.50 427.90,138.10 450.10,138.10 450.10,100.50" fill="none" stroke="#d8ded5" stroke-width="1.0" />
<polyline points="471.80,100.50 471.80,138.10 493.60,138.10 493.60,100.50" fill="none" stroke="#ecd6ea" stroke-width="1.0" />
<polyline points="515.30,100.50 515.30,138.10 536.60,138.10 536.60,100.50" fill="none" stroke="#dadada" stroke-width="1.0" />
<text x="373.30" y="177.00" font-size="4.16" text-anchor="middle" fill="#3a3a3a" style="color:#3a3a3a" transform="rotate(90 373.30 177.00)" >BRN</text>
<rect x="120.70" y="619.90" width="19.80" height="30.70" fill="#e4f0f8" stroke="#777" stroke-width="0.7" stroke-dasharray="2.2 1.6"/>
<path d="M128.40,618.40 q2.3,-2.6 4.6,0" fill="none" stroke="#5a5a5a" stroke-width="0.7"/>
<text x="127.00" y="616.00" font-size="3.54" text-anchor="middle" fill="#555" style="color:#555" transform="rotate(-90 127.00 616.00)" >3</text>
<text x="127.20" y="607.60" font-size="4.16" text-anchor="start" fill="#3a3a3a" style="color:#3a3a3a" transform="rotate(-90 127.20 607.60)" >VIO/YEL</text>
<text x="125.80" y="635.00" font-size="4.16" text-anchor="middle" fill="#3a3a3a" style="color:#3a3a3a" transform="rotate(-90 125.80 635.00)" >CENTRAL</text>
<text x="131.60" y="635.00" font-size="4.16" text-anchor="middle" fill="#3a3a3a" style="color:#3a3a3a" transform="rotate(-90 131.60 635.00)" >LOCK</text>
<text x="137.20" y="635.00" font-size="4.16" text-anchor="middle" fill="#3a3a3a" style="color:#3a3a3a" transform="rotate(-90 137.20 635.00)" >BUTTON</text>
<text x="130.70" y="655.60" font-size="4.37" text-anchor="middle" fill="#3a3a3a" style="color:#3a3a3a" >WARNING</text>
<text x="130.70" y="661.00" font-size="4.37" text-anchor="middle" fill="#3a3a3a" style="color:#3a3a3a" >LIGHT BUTTON</text>
<polyline points="180.90,617.50 180.90,552.00 231.60,552.00 231.60,588.40" fill="none" stroke="#a49c76" stroke-width="1.4" />
<line x1="231.60" y1="588.40" x2="231.60" y2="617.00" stroke="#a49c76" stroke-width="1.2" stroke-dasharray="2.4 2"/>
<circle cx="231.60" cy="588.40" r="1.0" fill="#111"/>
<rect x="168.90" y="620.30" width="26.40" height="30.70" fill="#e4f0f8" stroke="#7c868c" stroke-width="0.8" />
<path d="M171.80,618.40 q2.3,-2.6 4.6,0" fill="none" stroke="#5a5a5a" stroke-width="0.7"/>
<path d="M178.60,618.40 q2.3,-2.6 4.6,0" fill="none" stroke="#5a5a5a" stroke-width="0.7"/>
<path d="M185.80,618.40 q2.3,-2.6 4.6,0" fill="none" stroke="#5a5a5a" stroke-width="0.7"/>
<text x="170.50" y="608.60" font-size="4.16" text-anchor="start" fill="#3a3a3a" style="color:#3a3a3a" transform="rotate(-90 170.50 608.60)" >VIO/GRN</text>
<text x="171.70" y="616.50" font-size="3.54" text-anchor="middle" fill="#555" style="color:#555" transform="rotate(-90 171.70 616.50)" >3</text>
<text x="177.30" y="608.60" font-size="4.16" text-anchor="start" fill="#3a3a3a" style="color:#3a3a3a" transform="rotate(-90 177.30 608.60)" >BRN</text>
<text x="178.50" y="616.50" font-size="3.54" text-anchor="middle" fill="#555" style="color:#555" transform="rotate(-90 178.50 616.50)" >2</text>
<text x="184.50" y="608.60" font-size="4.16" text-anchor="start" fill="#3a3a3a" style="color:#3a3a3a" transform="rotate(-90 184.50 608.60)" >RED/YEL</text>
<text x="185.70" y="616.50" font-size="3.54" text-anchor="middle" fill="#555" style="color:#555" transform="rotate(-90 185.70 616.50)" >1</text>
<text x="175.40" y="623.80" font-size="4.26" text-anchor="end" fill="#3a3a3a" style="color:#3a3a3a" transform="rotate(-90 175.40 623.80)" >LIN</text>
<text x="182.20" y="623.80" font-size="4.26" text-anchor="end" fill="#3a3a3a" style="color:#3a3a3a" transform="rotate(-90 182.20 623.80)" >TERM 31</text>
<text x="189.40" y="623.80" font-size="4.26" text-anchor="end" fill="#3a3a3a" style="color:#3a3a3a" transform="rotate(-90 189.40 623.80)" >TERM 30</text>
<text x="182.00" y="655.60" font-size="4.37" text-anchor="middle" fill="#3a3a3a" style="color:#3a3a3a" >CENTER CONSOLE</text>
<text x="182.00" y="661.10" font-size="4.37" text-anchor="middle" fill="#3a3a3a" style="color:#3a3a3a" >BUTTON</text>
<text x="182.00" y="666.60" font-size="4.37" text-anchor="middle" fill="#3a3a3a" style="color:#3a3a3a" >MODULE</text>
<rect x="224.20" y="619.60" width="15.20" height="17.00" fill="#e4f0f8" stroke="#777" stroke-width="0.7" stroke-dasharray="2.2 1.6"/>
<line x1="231.60" y1="617.50" x2="231.60" y2="636.60" stroke="#666" stroke-width="0.8" />
<circle cx="231.60" cy="636.60" r="1.3" fill="#111"/>
<path d="M229.30,619.10 q2.3,-2.6 4.6,0" fill="none" stroke="#5a5a5a" stroke-width="0.7"/>
<text x="228.20" y="580.00" font-size="4.16" text-anchor="middle" fill="#3a3a3a" style="color:#3a3a3a" transform="rotate(-90 228.20 580.00)" >GRN</text>
<text x="228.20" y="605.00" font-size="4.16" text-anchor="middle" fill="#3a3a3a" style="color:#3a3a3a" transform="rotate(-90 228.20 605.00)" >GRN</text>
<text x="228.20" y="616.00" font-size="3.54" text-anchor="middle" fill="#3a3a3a" style="color:#3a3a3a" transform="rotate(-90 228.20 616.00)" >B</text>
<text x="232.00" y="645.60" font-size="4.37" text-anchor="middle" fill="#3a3a3a" style="color:#3a3a3a" >GP27</text>
<text x="232.00" y="651.00" font-size="4.37" text-anchor="middle" fill="#3a3a3a" style="color:#3a3a3a" >(RIGHT SIDE</text>
<text x="232.00" y="656.40" font-size="4.37" text-anchor="middle" fill="#3a3a3a" style="color:#3a3a3a" >OF DASH)</text>
<rect x="270.70" y="620.30" width="19.00" height="30.90" fill="#e4f0f8" stroke="#7c868c" stroke-width="0.8" />
<path d="M274.00,618.40 q2.3,-2.6 4.6,0" fill="none" stroke="#5a5a5a" stroke-width="0.7"/>
<path d="M280.20,618.40 q2.3,-2.6 4.6,0" fill="none" stroke="#5a5a5a" stroke-width="0.7"/>
<text x="272.60" y="607.50" font-size="4.16" text-anchor="start" fill="#3a3a3a" style="color:#3a3a3a" transform="rotate(-90 272.60 607.50)" >BRN/WHT</text>
<text x="279.00" y="607.50" font-size="4.16" text-anchor="start" fill="#3a3a3a" style="color:#3a3a3a" transform="rotate(-90 279.00 607.50)" >VIO/BRN</text>
<text x="272.80" y="616.20" font-size="3.54" text-anchor="middle" fill="#555" style="color:#555" transform="rotate(-90 272.80 616.20)" >2</text>
<text x="279.00" y="616.20" font-size="3.54" text-anchor="middle" fill="#555" style="color:#555" transform="rotate(-90 279.00 616.20)" >1</text>
<text x="277.40" y="623.80" font-size="4.26" text-anchor="end" fill="#3a3a3a" style="color:#3a3a3a" transform="rotate(-90 277.40 623.80)" >TERM 31</text>
<text x="284.20" y="623.80" font-size="4.26" text-anchor="end" fill="#3a3a3a" style="color:#3a3a3a" transform="rotate(-90 284.20 623.80)" >SIGNAL</text>
<text x="279.20" y="656.20" font-size="4.37" text-anchor="middle" fill="#3a3a3a" style="color:#3a3a3a" >OUTSIDE</text>
<text x="279.20" y="661.65" font-size="4.37" text-anchor="middle" fill="#3a3a3a" style="color:#3a3a3a" >TEMPERATURE</text>
<text x="279.20" y="667.10" font-size="4.37" text-anchor="middle" fill="#3a3a3a" style="color:#3a3a3a" >SENSOR</text>
<text x="279.20" y="672.55" font-size="4.37" text-anchor="middle" fill="#3a3a3a" style="color:#3a3a3a" >(BEHIND RIGHT SIDE OF</text>
<text x="279.20" y="678.00" font-size="4.37" text-anchor="middle" fill="#3a3a3a" style="color:#3a3a3a" >FRONT BUMPER)</text>
<polyline points="369.70,617.50 369.70,537.60 413.30,537.60 413.30,588.20" fill="none" stroke="#a49c76" stroke-width="1.4" />
<line x1="413.30" y1="588.20" x2="413.30" y2="617.00" stroke="#a49c76" stroke-width="1.2" stroke-dasharray="2.4 2"/>
<circle cx="413.30" cy="588.20" r="1.0" fill="#111"/>
<rect x="336.30" y="620.30" width="40.20" height="30.70" fill="#e4f0f8" stroke="#7c868c" stroke-width="0.8" />
<path d="M338.10,618.40 q2.3,-2.6 4.6,0" fill="none" stroke="#5a5a5a" stroke-width="0.7"/>
<path d="M352.70,618.40 q2.3,-2.6 4.6,0" fill="none" stroke="#5a5a5a" stroke-width="0.7"/>
<path d="M367.40,618.40 q2.3,-2.6 4.6,0" fill="none" stroke="#5a5a5a" stroke-width="0.7"/>
<path d="M338.40,566.80 q2.0,1.8 4.0,0 M338.40,569.00 q2.0,1.8 4.0,0" fill="none" stroke="#666" stroke-width="0.55"/>
<path d="M353.00,566.80 q2.0,1.8 4.0,0 M353.00,569.00 q2.0,1.8 4.0,0" fill="none" stroke="#666" stroke-width="0.55"/>
<text x="336.60" y="549.00" font-size="4.16" text-anchor="middle" fill="#3a3a3a" style="color:#3a3a3a" transform="rotate(-90 336.60 549.00)" >BLU</text>
<text x="336.60" y="563.00" font-size="3.54" text-anchor="middle" fill="#3a3a3a" style="color:#3a3a3a" transform="rotate(-90 336.60 563.00)" >12</text>
<text x="336.60" y="607.50" font-size="4.16" text-anchor="start" fill="#3a3a3a" style="color:#3a3a3a" transform="rotate(-90 336.60 607.50)" >BLU/GRN</text>
<text x="336.80" y="616.20" font-size="3.54" text-anchor="middle" fill="#555" style="color:#555" transform="rotate(-90 336.80 616.20)" >4</text>
<text x="351.20" y="546.00" font-size="4.16" text-anchor="middle" fill="#3a3a3a" style="color:#3a3a3a" transform="rotate(-90 351.20 546.00)" >VIO/GRY</text>
<text x="351.20" y="563.50" font-size="3.54" text-anchor="middle" fill="#3a3a3a" style="color:#3a3a3a" transform="rotate(-90 351.20 563.50)" >8</text>
<text x="359.60" y="560.50" font-size="3.54" text-anchor="middle" fill="#3a3a3a" style="color:#3a3a3a" transform="rotate(-90 359.60 560.50)" text-decoration="underline">C302</text>
<text x="351.20" y="607.50" font-size="4.16" text-anchor="start" fill="#3a3a3a" style="color:#3a3a3a" transform="rotate(-90 351.20 607.50)" >VIO/YEL</text>
<text x="351.40" y="616.20" font-size="3.54" text-anchor="middle" fill="#555" style="color:#555" transform="rotate(-90 351.40 616.20)" >1</text>
<text x="365.80" y="607.50" font-size="4.16" text-anchor="start" fill="#3a3a3a" style="color:#3a3a3a" transform="rotate(-90 365.80 607.50)" >BRN</text>
<text x="366.00" y="616.20" font-size="3.54" text-anchor="middle" fill="#555" style="color:#555" transform="rotate(-90 366.00 616.20)" >2</text>
<text x="341.80" y="623.80" font-size="4.26" text-anchor="end" fill="#3a3a3a" style="color:#3a3a3a" transform="rotate(-90 341.80 623.80)" >CLUTCH +</text>
<text x="356.40" y="623.80" font-size="4.26" text-anchor="end" fill="#3a3a3a" style="color:#3a3a3a" transform="rotate(-90 356.40 623.80)" >VALVE +</text>
<text x="371.00" y="623.80" font-size="4.26" text-anchor="end" fill="#3a3a3a" style="color:#3a3a3a" transform="rotate(-90 371.00 623.80)" >VALVE -</text>
<text x="356.40" y="656.80" font-size="4.37" text-anchor="middle" fill="#3a3a3a" style="color:#3a3a3a" >AIR CONDITIONING</text>
<text x="356.40" y="662.20" font-size="4.37" text-anchor="middle" fill="#3a3a3a" style="color:#3a3a3a" >COMPRESSOR</text>
<rect x="406.10" y="620.30" width="15.50" height="15.70" fill="#e4f0f8" stroke="#777" stroke-width="0.7" stroke-dasharray="2.2 1.6"/>
<line x1="413.30" y1="617.50" x2="413.30" y2="636.40" stroke="#666" stroke-width="0.8" />
<circle cx="413.30" cy="636.40" r="1.3" fill="#111"/>
<path d="M411.00,619.10 q2.3,-2.6 4.6,0" fill="none" stroke="#5a5a5a" stroke-width="0.7"/>
<text x="409.60" y="580.00" font-size="4.16" text-anchor="middle" fill="#3a3a3a" style="color:#3a3a3a" transform="rotate(-90 409.60 580.00)" >BRN</text>
<text x="409.60" y="605.00" font-size="4.16" text-anchor="middle" fill="#3a3a3a" style="color:#3a3a3a" transform="rotate(-90 409.60 605.00)" >BRN</text>
<text x="409.60" y="615.60" font-size="3.54" text-anchor="middle" fill="#3a3a3a" style="color:#3a3a3a" transform="rotate(-90 409.60 615.60)" >D</text>
<text x="413.30" y="645.60" font-size="4.37" text-anchor="middle" fill="#3a3a3a" style="color:#3a3a3a" >GP8</text>
<text x="413.30" y="651.00" font-size="4.37" text-anchor="middle" fill="#3a3a3a" style="color:#3a3a3a" >(RIGHT SIDE</text>
<text x="413.30" y="656.40" font-size="4.37" text-anchor="middle" fill="#3a3a3a" style="color:#3a3a3a" >OF ENGINE</text>
<text x="413.30" y="661.80" font-size="4.37" text-anchor="middle" fill="#3a3a3a" style="color:#3a3a3a" >COMPT)</text>
<rect x="460.20" y="619.40" width="30.40" height="23.10" fill="#e4f0f8" stroke="#7c868c" stroke-width="0.8" />
<path d="M462.30,618.40 q2.3,-2.6 4.6,0" fill="none" stroke="#5a5a5a" stroke-width="0.7"/>
<path d="M483.70,618.40 q2.3,-2.6 4.6,0" fill="none" stroke="#5a5a5a" stroke-width="0.7"/>
<path d="M464.6,619.5 V631.7 H470.5 M480.4,631.7 H486.0 V619.5" fill="none" stroke="#6a737a" stroke-width="0.8"/>
<path d="M470.5,631.7 q1.25,-2 2.5,0 q1.25,-2 2.5,0 q1.25,-2 2.5,0 q1.25,-2 2.5,0" fill="none" stroke="#6a737a" stroke-width="0.7"/>
<line x1="470.50" y1="634.00" x2="480.40" y2="634.00" stroke="#8a949a" stroke-width="0.6" />
<line x1="470.50" y1="635.40" x2="480.40" y2="635.40" stroke="#8a949a" stroke-width="0.6" />
<text x="460.60" y="607.50" font-size="4.16" text-anchor="start" fill="#3a3a3a" style="color:#3a3a3a" transform="rotate(-90 460.60 607.50)" >GRY/YEL</text>
<text x="482.00" y="607.50" font-size="4.16" text-anchor="start" fill="#3a3a3a" style="color:#3a3a3a" transform="rotate(-90 482.00 607.50)" >RED/GRN</text>
<text x="460.60" y="615.60" font-size="3.54" text-anchor="middle" fill="#555" style="color:#555" transform="rotate(-90 460.60 615.60)" >1</text>
<text x="482.00" y="615.60" font-size="3.54" text-anchor="middle" fill="#555" style="color:#555" transform="rotate(-90 482.00 615.60)" >2</text>
<text x="475.40" y="647.40" font-size="4.37" text-anchor="middle" fill="#3a3a3a" style="color:#3a3a3a" >COOLANT</text>
<text x="475.40" y="652.90" font-size="4.37" text-anchor="middle" fill="#3a3a3a" style="color:#3a3a3a" >SHUT-OFF</text>
<text x="475.40" y="658.40" font-size="4.37" text-anchor="middle" fill="#3a3a3a" style="color:#3a3a3a" >VALVE 3</text>
<text x="47.20" y="679.00" font-size="3.43" text-anchor="start" fill="#444" style="color:#444" >886280</text>
<text x="564.90" y="262.50" font-size="4.16" text-anchor="middle" fill="#555" style="color:#555" >1</text>
<text x="555.00" y="258.90" font-size="4.16" text-anchor="end" fill="#3c3c3c" style="color:#3c3c3c" >VIO</text>
<text x="564.90" y="269.80" font-size="4.16" text-anchor="middle" fill="#555" style="color:#555" >2</text>
<text x="555.00" y="266.20" font-size="4.16" text-anchor="end" fill="#3c3c3c" style="color:#3c3c3c" >BLK</text>
<text x="564.90" y="277.40" font-size="4.16" text-anchor="middle" fill="#555" style="color:#555" >3</text>
<text x="555.00" y="273.80" font-size="4.16" text-anchor="end" fill="#3c3c3c" style="color:#3c3c3c" >RED/GRN</text>
<defs><linearGradient id="lg" x1="0" y1="0" x2="0" y2="1"><stop offset="0" stop-color="#f5d894"/><stop offset="0.5" stop-color="#d2bf92"/><stop offset="1" stop-color="#9c9a90"/></linearGradient></defs>
<g style="mix-blend-mode:multiply">
<g transform="translate(77.6,481.0) rotate(-16)"><rect x="-28" y="-28" width="56" height="56" rx="11" ry="11" fill="url(#lg)"/></g>
<polygon points="59.02,475.00 79.22,460.00 83.14,460.39 65.69,474.51 79.41,495.88 76.08,496.67" fill="#858583"/>
<polygon points="74.31,477.45 85.49,474.71 86.08,476.47 75.69,479.41" fill="#858583"/>
<polygon points="79.41,482.84 92.35,476.27 94.90,478.63 81.57,485.49" fill="#858583"/>
<polygon points="65.69,474.51 82.35,460.98 84.51,462.35 85.49,466.18 73.33,474.51 84.90,473.82 85.49,475.10 75.10,477.84 81.57,484.90 93.92,478.43 98.04,482.94 79.41,495.88" fill="#f2d898"/>
</g>
<text transform="translate(120.7,478.8) rotate(-16.97) scale(1.171,1)" x="-2.14" y="0" font-size="32" font-weight="bold" fill="#7a7a7a" style="stroke:#7a7a7a;stroke-width:0.7px;stroke-linejoin:round;letter-spacing:0;mix-blend-mode:multiply;font-family:'Liberation Sans',sans-serif">EVERYMANUALS.COM</text>
</svg>
<svg width="612" height="866" style="position:absolute;left:0;top:0"><text x="29.2" y="719.9" font-size="11.2" fill="#3a3a3a" style="stroke:#3a3a3a;stroke-width:0.4px;font-family:'Liberation Sans',sans-serif;letter-spacing:-0.36px">Page 3 of 3</text></svg>
</body></html>
